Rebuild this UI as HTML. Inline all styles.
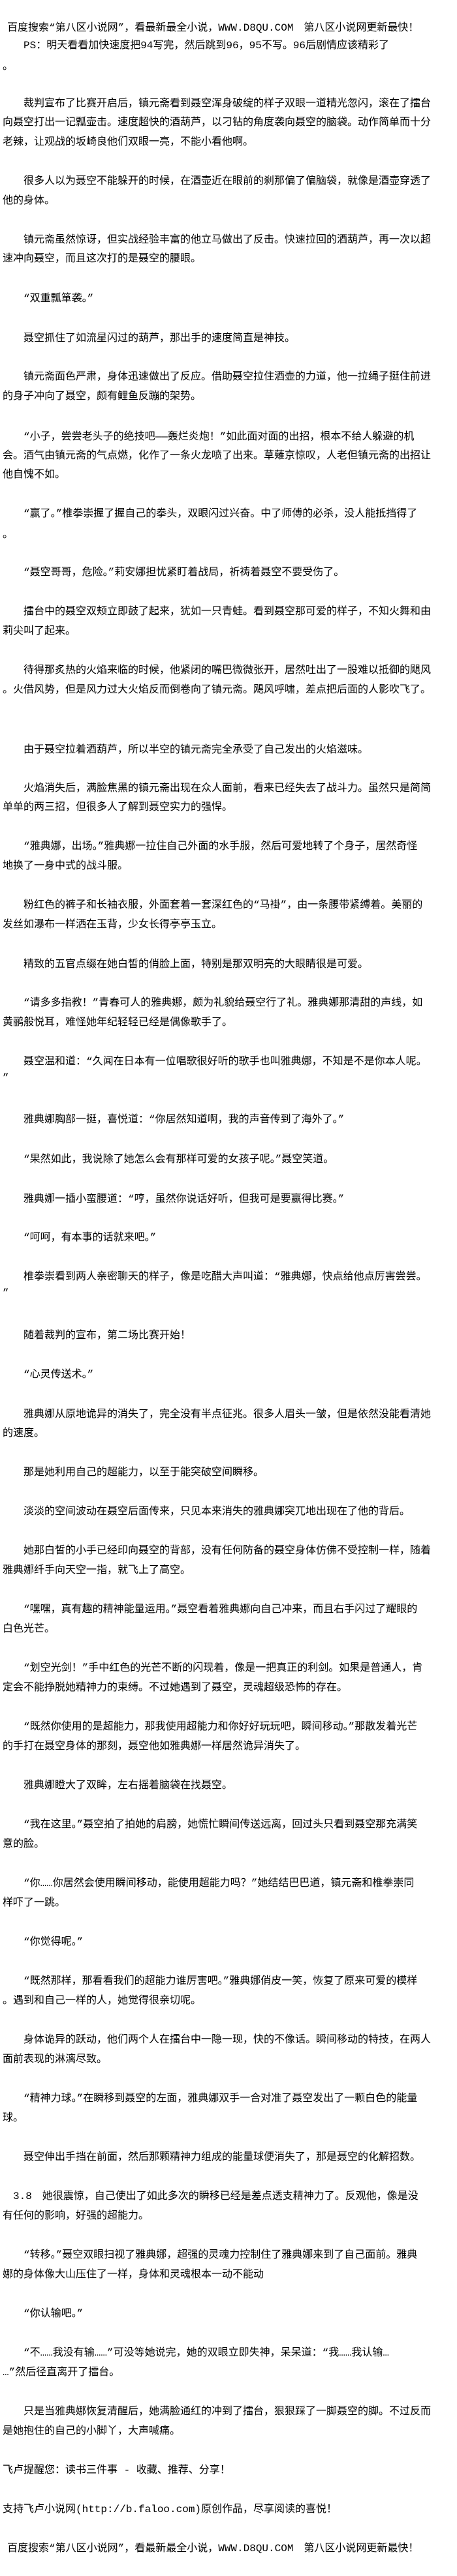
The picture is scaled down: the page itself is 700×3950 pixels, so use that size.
<!DOCTYPE html>
<html><head><meta charset="utf-8"><style>
html,body{margin:0;padding:0;background:#fff;}
body{width:700px;height:3950px;position:relative;overflow:hidden;font-family:"Liberation Mono","Noto Sans CJK SC",monospace;font-size:16px;color:#000;}
div{position:absolute;white-space:nowrap;line-height:20px;height:20px;}
.l{left:4px;}.i{left:36px;}.h{left:11px;}
</style></head><body>
<div class="h" style="top:33px">百度搜索“第八区小说网”，看最新最全小说，WWW.D8QU.COM　第八区小说网更新最快！</div>
<div class="i" style="top:60px">PS：明天看看加快速度把94写完，然后跳到96，95不写。96后剧情应该精彩了</div>
<div class="l" style="top:92px">。</div>
<div class="i" style="top:149px">裁判宣布了比赛开启后，镇元斋看到聂空浑身破绽的样子双眼一道精光忽闪，滚在了擂台</div>
<div class="l" style="top:178px">向聂空打出一记瓢壶击。速度超快的酒葫芦，以刁钻的角度袭向聂空的脑袋。动作简单而十分</div>
<div class="l" style="top:208px">老辣，让观战的坂崎良他们双眼一亮，不能小看他啊。</div>
<div class="i" style="top:268px">很多人以为聂空不能躲开的时候，在酒壶近在眼前的刹那偏了偏脑袋，就像是酒壶穿透了</div>
<div class="l" style="top:298px">他的身体。</div>
<div class="i" style="top:358px">镇元斋虽然惊讶，但实战经验丰富的他立马做出了反击。快速拉回的酒葫芦，再一次以超</div>
<div class="l" style="top:387px">速冲向聂空，而且这次打的是聂空的腰眼。</div>
<div class="i" style="top:448px">“双重瓢箪袭。”</div>
<div class="i" style="top:509px">聂空抓住了如流星闪过的葫芦，那出手的速度简直是神技。</div>
<div class="i" style="top:568px">镇元斋面色严肃，身体迅速做出了反应。借助聂空拉住酒壶的力道，他一拉绳子挺住前进</div>
<div class="l" style="top:598px">的身子冲向了聂空，颇有鲤鱼反蹦的架势。</div>
<div class="i" style="top:660px">“小子，尝尝老头子的绝技吧——轰烂炎炮！”如此面对面的出招，根本不给人躲避的机</div>
<div class="l" style="top:689px">会。酒气由镇元斋的气点燃，化作了一条火龙喷了出来。草薙京惊叹，人老但镇元斋的出招让</div>
<div class="l" style="top:718px">他自愧不如。</div>
<div class="i" style="top:778px">“赢了。”椎拳崇握了握自己的拳头，双眼闪过兴奋。中了师傅的必杀，没人能抵挡得了</div>
<div class="l" style="top:810px">。</div>
<div class="i" style="top:868px">“聂空哥哥，危险。”莉安娜担忧紧盯着战局，祈祷着聂空不要受伤了。</div>
<div class="i" style="top:928px">擂台中的聂空双颊立即鼓了起来，犹如一只青蛙。看到聂空那可爱的样子，不知火舞和由</div>
<div class="l" style="top:958px">莉尖叫了起来。</div>
<div class="i" style="top:1018px">待得那炙热的火焰来临的时候，他紧闭的嘴巴微微张开，居然吐出了一股难以抵御的飓风</div>
<div class="l" style="top:1048px">。火借风势，但是风力过大火焰反而倒卷向了镇元斋。飓风呼啸，差点把后面的人影吹飞了。</div>
<div class="i" style="top:1140px">由于聂空拉着酒葫芦，所以半空的镇元斋完全承受了自己发出的火焰滋味。</div>
<div class="i" style="top:1199px">火焰消失后，满脸焦黑的镇元斋出现在众人面前，看来已经失去了战斗力。虽然只是简简</div>
<div class="l" style="top:1228px">单单的两三招，但很多人了解到聂空实力的强悍。</div>
<div class="i" style="top:1288px">“雅典娜，出场。”雅典娜一拉住自己外面的水手服，然后可爱地转了个身子，居然奇怪</div>
<div class="l" style="top:1318px">地换了一身中式的战斗服。</div>
<div class="i" style="top:1378px">粉红色的裤子和长袖衣服，外面套着一套深红色的“马褂”，由一条腰带紧缚着。美丽的</div>
<div class="l" style="top:1408px">发丝如瀑布一样洒在玉背，少女长得亭亭玉立。</div>
<div class="i" style="top:1469px">精致的五官点缀在她白皙的俏脸上面，特别是那双明亮的大眼睛很是可爱。</div>
<div class="i" style="top:1528px">“请多多指教！”青春可人的雅典娜，颇为礼貌给聂空行了礼。雅典娜那清甜的声线，如</div>
<div class="l" style="top:1558px">黄鹂般悦耳，难怪她年纪轻轻已经是偶像歌手了。</div>
<div class="i" style="top:1618px">聂空温和道：“久闻在日本有一位唱歌很好听的歌手也叫雅典娜，不知是不是你本人呢。</div>
<div class="l" style="top:1643px">”</div>
<div class="i" style="top:1707px">雅典娜胸部一挺，喜悦道：“你居然知道啊，我的声音传到了海外了。”</div>
<div class="i" style="top:1768px">“果然如此，我说除了她怎么会有那样可爱的女孩子呢。”聂空笑道。</div>
<div class="i" style="top:1829px">雅典娜一插小蛮腰道：“哼，虽然你说话好听，但我可是要赢得比赛。”</div>
<div class="i" style="top:1888px">“呵呵，有本事的话就来吧。”</div>
<div class="i" style="top:1948px">椎拳崇看到两人亲密聊天的样子，像是吃醋大声叫道：“雅典娜，快点给他点厉害尝尝。</div>
<div class="l" style="top:1973px">”</div>
<div class="i" style="top:2038px">随着裁判的宣布，第二场比赛开始！</div>
<div class="i" style="top:2098px">“心灵传送术。”</div>
<div class="i" style="top:2159px">雅典娜从原地诡异的消失了，完全没有半点征兆。很多人眉头一皱，但是依然没能看清她</div>
<div class="l" style="top:2188px">的速度。</div>
<div class="i" style="top:2248px">那是她利用自己的超能力，以至于能突破空间瞬移。</div>
<div class="i" style="top:2308px">淡淡的空间波动在聂空后面传来，只见本来消失的雅典娜突兀地出现在了他的背后。</div>
<div class="i" style="top:2368px">她那白皙的小手已经印向聂空的背部，没有任何防备的聂空身体仿佛不受控制一样，随着</div>
<div class="l" style="top:2398px">雅典娜纤手向天空一指，就飞上了高空。</div>
<div class="i" style="top:2458px">“嘿嘿，真有趣的精神能量运用。”聂空看着雅典娜向自己冲来，而且右手闪过了耀眼的</div>
<div class="l" style="top:2488px">白色光芒。</div>
<div class="i" style="top:2548px">“划空光剑！”手中红色的光芒不断的闪现着，像是一把真正的利剑。如果是普通人，肯</div>
<div class="l" style="top:2578px">定会不能挣脱她精神力的束缚。不过她遇到了聂空，灵魂超级恐怖的存在。</div>
<div class="i" style="top:2638px">“既然你使用的是超能力，那我使用超能力和你好好玩玩吧，瞬间移动。”那散发着光芒</div>
<div class="l" style="top:2668px">的手打在聂空身体的那刻，聂空他如雅典娜一样居然诡异消失了。</div>
<div class="i" style="top:2728px">雅典娜瞪大了双眸，左右摇着脑袋在找聂空。</div>
<div class="i" style="top:2788px">“我在这里。”聂空拍了拍她的肩膀，她慌忙瞬间传送远离，回过头只看到聂空那充满笑</div>
<div class="l" style="top:2818px">意的脸。</div>
<div class="i" style="top:2878px">“你……你居然会使用瞬间移动，能使用超能力吗？”她结结巴巴道，镇元斋和椎拳崇同</div>
<div class="l" style="top:2908px">样吓了一跳。</div>
<div class="i" style="top:2968px">“你觉得呢。”</div>
<div class="i" style="top:3028px">“既然那样，那看看我们的超能力谁厉害吧。”雅典娜俏皮一笑，恢复了原来可爱的模样</div>
<div class="l" style="top:3058px">。遇到和自己一样的人，她觉得很亲切呢。</div>
<div class="i" style="top:3118px">身体诡异的跃动，他们两个人在擂台中一隐一现，快的不像话。瞬间移动的特技，在两人</div>
<div class="l" style="top:3148px">面前表现的淋漓尽致。</div>
<div class="i" style="top:3208px">“精神力球。”在瞬移到聂空的左面，雅典娜双手一合对准了聂空发出了一颗白色的能量</div>
<div class="l" style="top:3238px">球。</div>
<div class="i" style="top:3298px">聂空伸出手挡在前面，然后那颗精神力组成的能量球便消失了，那是聂空的化解招数。</div>
<div style="left:20px;top:3358px">3.8　她很震惊，自己使出了如此多次的瞬移已经是差点透支精神力了。反观他，像是没</div>
<div class="l" style="top:3388px">有任何的影响，好强的超能力。</div>
<div class="i" style="top:3448px">“转移。”聂空双眼扫视了雅典娜，超强的灵魂力控制住了雅典娜来到了自己面前。雅典</div>
<div class="l" style="top:3478px">娜的身体像大山压住了一样，身体和灵魂根本一动不能动</div>
<div class="i" style="top:3538px">“你认输吧。”</div>
<div class="i" style="top:3598px">“不……我没有输……”可没等她说完，她的双眼立即失神，呆呆道：“我……我认输…</div>
<div class="l" style="top:3628px">…”然后径直离开了擂台。</div>
<div class="i" style="top:3688px">只是当雅典娜恢复清醒后，她满脸通红的冲到了擂台，狠狠踩了一脚聂空的脚。不过反而</div>
<div class="l" style="top:3718px">是她抱住的自己的小脚丫，大声喊痛。</div>
<div class="l" style="top:3778px">飞卢提醒您：读书三件事 - 收藏、推荐、分享！</div>
<div class="l" style="top:3838px">支持飞卢小说网(http://b.faloo.com)原创作品，尽享阅读的喜悦！</div>
<div class="h" style="top:3898px">百度搜索“第八区小说网”，看最新最全小说，WWW.D8QU.COM　第八区小说网更新最快！</div>
</body></html>
